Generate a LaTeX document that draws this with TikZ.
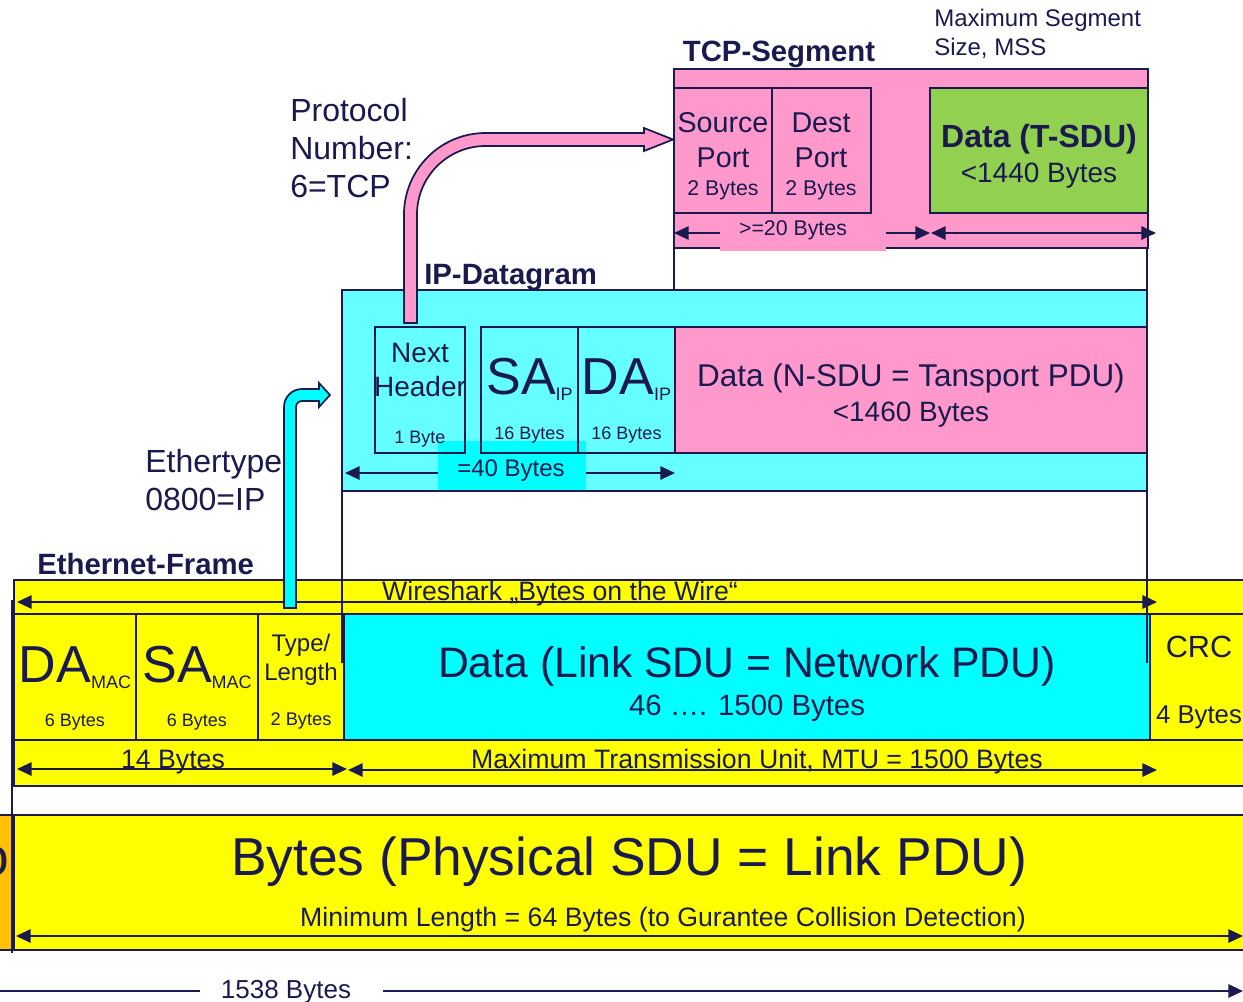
\documentclass[tikz,border=0pt]{standalone}
\usepackage{fontspec}
\setmainfont{Liberation Sans}
\usetikzlibrary{arrows.meta}
\definecolor{navy}{HTML}{1A1A4E}
\definecolor{ylw}{HTML}{FFFF00}
\definecolor{cyn}{HTML}{00FFFF}
\definecolor{lcyn}{HTML}{66FFFF}
\definecolor{pnk}{HTML}{FF99CC}
\definecolor{grn}{HTML}{92D050}
\definecolor{orng}{HTML}{FFC000}
\newcommand\myfs[1]{\fontsize{#1}{#1}\selectfont}
\tikzset{
  box/.style={draw=navy, line width=2pt},
  dim/.style={draw=navy, line width=1.5pt},
  guide/.style={draw=navy, line width=1.2pt},
  fat/.style={draw=navy, line width=1.3pt, line join=miter},
  txt/.style={text=navy, inner sep=0pt, anchor=base},
  ltxt/.style={text=navy, inner sep=0pt, anchor=base west},
  >={Triangle[length=11pt,width=10pt]}
}
\begin{document}
\begin{tikzpicture}[x=0.75pt,y=-0.75pt]
\useasboundingbox (0,0) rectangle (1243,1001);
\clip (0,0) rectangle (1243,1001);

% ---------------- TCP segment ----------------
\draw[box, fill=pnk] (674,69) rectangle (1148,248);
\draw[box] (674,88) rectangle (772,213);
\draw[box] (772,88) rectangle (871,213);
\draw[box, fill=grn] (930,88) rectangle (1148,213);
\fill[pnk] (720,216) rectangle (886,251);
\draw[dim,<-] (674,233) -- (720,233);
\draw[dim,->] (886,233) -- (930,233);
\draw[dim,<->] (931,233) -- (1156,233);
\node[txt, font=\bfseries\myfs{22}] (tcplbl) at (779,61) {TCP-Segment};
\node[ltxt, font=\myfs{18}] (mss1) at (934,26) {Maximum Segment};
\node[ltxt, font=\myfs{18}] (mss2) at (934,55) {Size, MSS};
\node[txt, font=\myfs{21.5}] (src1) at (723,132) {Source};
\node[txt, font=\myfs{21.5}] (src2) at (723,167) {Port};
\node[txt, font=\myfs{16}] (src3) at (723,195) {2 Bytes};
\node[txt, font=\myfs{21.5}] (dst1) at (821,132) {Dest};
\node[txt, font=\myfs{21.5}] (dst2) at (821,167) {Port};
\node[txt, font=\myfs{16}] (dst3) at (821,195) {2 Bytes};
\node[txt, font=\bfseries\myfs{24}] (tsdu1) at (1039,147) {Data (T-SDU)};
\node[txt, font=\myfs{21}] (tsdu2) at (1039,182) {<1440 Bytes};
\node[txt, font=\myfs{16}] (ge20) at (793,235) {>=20 Bytes};
\draw[guide] (674,248) -- (674,290);
\draw[guide] (1147,248) -- (1147,290);

% Protocol label
\node[ltxt, font=\myfs{24}] (proto1) at (290,121) {Protocol};
\node[ltxt, font=\myfs{24}] (proto2) at (290,159) {Number:};
\node[ltxt, font=\myfs{24}] (proto3) at (290,197) {6=TCP};

% ---------------- IP datagram ----------------
\fill[lcyn] (342,290) rectangle (1147,491);
\fill[cyn] (438,441) rectangle (586,490);
\draw[box] (342,290) rectangle (1147,491);
\draw[box] (375,327) rectangle (465,453);
\draw[box] (481,327) rectangle (578,453);
\draw[box] (578,327) rectangle (675,453);
\draw[box, fill=pnk] (675,327) rectangle (1147,453);
\draw[dim,<-] (345,473) -- (438,473);
\draw[dim,->] (586,473) -- (675,473);
\node[ltxt, font=\bfseries\myfs{22}] (iplbl) at (424,284) {IP-Datagram};
\node[txt, font=\myfs{21}] (nh1) at (420,362) {Next};
\node[txt, font=\myfs{21}] (nh2) at (420,396) {Header};
\node[txt, font=\myfs{13.5}] (nh3) at (420,443) {1 Byte};
\node[txt, font=\myfs{39}] (saip) at (529.5,394) {SA\raisebox{-4.5pt}{\myfs{13.5}IP}};
\node[txt, font=\myfs{13.5}] (sa16) at (529.5,439) {16 Bytes};
\node[txt, font=\myfs{39}] (daip) at (626.5,394) {DA\raisebox{-4.5pt}{\myfs{13.5}IP}};
\node[txt, font=\myfs{13.5}] (da16) at (626.5,439) {16 Bytes};
\node[txt, font=\myfs{23.6}] (ipd1) at (911,386) {Data (N-SDU = Tansport PDU)};
\node[txt, font=\myfs{21}] (ipd2) at (911,421) {<1460 Bytes};
\node[txt, font=\myfs{18}] (eq40) at (511,476) {=40 Bytes};

% pink block arrow (Protocol Number)
\draw[fat, fill=pnk] (404,323) -- (404,214.5)
  .. controls (404,169.5) and (440.5,133) .. (485.5,133)
  -- (644,133) -- (644,128) -- (673,139.5) -- (644,151) -- (644,146)
  -- (485.5,146) .. controls (447.7,146) and (417,176.7) .. (417,214.5)
  -- (417,323) -- cycle;

% Ethertype label
\node[ltxt, font=\myfs{24}] (eth1) at (145,472) {Ethertype:};
\node[ltxt, font=\myfs{24}] (eth2) at (145,510) {0800=IP};

% ---------------- Ethernet frame ----------------
\draw[box, fill=ylw] (14,580) rectangle (1265,786);
\draw[box] (14,614) -- (1265,614);
\draw[box] (14,740) -- (1265,740);
\draw[box] (14,614) rectangle (136,740);
\draw[box] (136,614) rectangle (258,740);
\draw[box] (258,614) rectangle (344,740);
\draw[box, fill=cyn] (344,614) rectangle (1150,740);
\draw[box] (1150,614) rectangle (1265,740);
\draw[dim,<->] (17,602) -- (1157,602);
\draw[dim,<->] (17,769) -- (347,769);
\draw[dim,<->] (348,770) -- (1157,770);
\node[ltxt, font=\bfseries\myfs{22}] (ethlbl) at (37,574) {Ethernet-Frame};
\node[txt, font=\myfs{20}] (wire) at (560,600) {Wireshark „Bytes on the Wire“};
\node[txt, font=\myfs{39}] (damac) at (75,682) {DA\raisebox{-5pt}{\myfs{13.5}MAC}};
\node[txt, font=\myfs{13.5}] (da6) at (75,726) {6 Bytes};
\node[txt, font=\myfs{39}] (samac) at (197,682) {SA\raisebox{-5pt}{\myfs{13.5}MAC}};
\node[txt, font=\myfs{13.5}] (sa6) at (197,726) {6 Bytes};
\node[txt, font=\myfs{18}] (tl1) at (301,651) {Type/};
\node[txt, font=\myfs{18}] (tl2) at (301,680) {Length};
\node[txt, font=\myfs{13.7}] (tl3) at (301,725) {2 Bytes};
\node[txt, font=\myfs{32}] (ld1) at (747,677) {Data (Link SDU = Network PDU)};
\node[txt, font=\myfs{22}] (ld2) at (747,715) {46 …. 1500 Bytes};
\node[txt, font=\myfs{23}] (crc1) at (1199,657) {CRC};
\node[txt, font=\myfs{19.3}] (crc2) at (1199,723) {4 Bytes};
\node[txt, font=\myfs{20}] (b14) at (173,768) {14 Bytes};
\node[txt, font=\myfs{20}] (mtu) at (757,768) {Maximum Transmission Unit, MTU = 1500 Bytes};

% cyan block arrow (Ethertype)
\draw[fat, fill=cyn] (284,608) -- (284,407)
  .. controls (284,397) and (292,389) .. (302,389)
  -- (319,389) -- (319,383) -- (330,395) -- (319,407) -- (319,401)
  -- (302,401) .. controls (298.7,401) and (296,403.7) .. (296,407)
  -- (296,608) -- cycle;

% guide lines
\draw[guide] (342,491) -- (342,663);
\draw[guide] (1147,491) -- (1147,663);

% ---------------- Physical ----------------
\draw[box, fill=orng] (-20,815) rectangle (13,950);
\begin{scope}
\clip (-20,815) rectangle (12,950);
\node[txt, anchor=base east, font=\myfs{40}] (cut) at (9,875) {o};
\end{scope}
\draw[box, fill=ylw] (14,815) rectangle (1265,950);
\draw[guide] (12,600) -- (12,953);
\draw[dim,<->] (16,936) -- (1243,936);
\node[txt, font=\myfs{40}] (phys) at (629,875) {Bytes (Physical SDU = Link PDU)};
\node[txt, font=\myfs{20}] (minlen) at (663,926) {Minimum Length = 64 Bytes (to Gurantee Collision Detection)};
\draw[dim] (-5,991) -- (200,991);
\draw[dim,->] (383,991) -- (1243,991);
\node[txt, font=\myfs{19.5}] (b1538) at (286,998) {1538 Bytes};
\end{tikzpicture}
\end{document}
